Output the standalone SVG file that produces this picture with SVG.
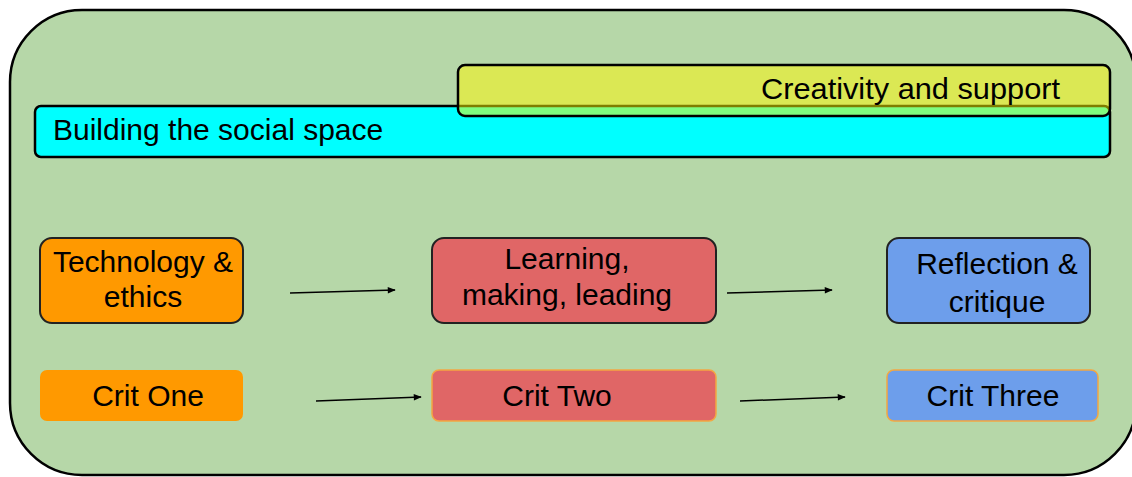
<svg xmlns="http://www.w3.org/2000/svg" width="1132" height="477" viewBox="0 0 1132 477">
<style>
text{font-family:"Liberation Sans",Arial,sans-serif;font-size:30px;fill:#000}
.node{stroke:#222;stroke-width:2}
.crit{stroke:#f4a742;stroke-width:1.5}
.conn line{stroke:#000;stroke-width:1.5;marker-end:url(#ah)}
</style>
<defs>
<marker id="ah" viewBox="0 0 10 10" refX="9" refY="5" markerWidth="11" markerHeight="8" orient="auto" markerUnits="userSpaceOnUse">
<path d="M0,1 L10,5 L0,9 z" fill="#000"/>
</marker>
</defs>
<rect width="1132" height="477" fill="#fff"/>
<g id="container">
<rect x="10" y="10" width="1126" height="465" rx="72" fill="#b6d7a8" stroke="#000" stroke-width="2.5"/>
</g>
<g id="social">
<rect x="35" y="106" width="1075" height="51" rx="6" fill="#00ffff" stroke="#000" stroke-width="2.5"/>
<text x="53" y="140">Building the social space</text>
</g>
<g id="creativity">
<rect x="458" y="65" width="652" height="51" rx="7" fill="#fffa00" fill-opacity="0.5" stroke="#000" stroke-width="2.5"/>
<text x="1060" y="99" text-anchor="end" textLength="299" lengthAdjust="spacingAndGlyphs">Creativity and support</text>
</g>
<g id="tech">
<rect class="node" x="40" y="238" width="203" height="85" rx="12" fill="#ff9900"/>
<text x="143" y="272" text-anchor="middle">Technology &amp;</text>
<text x="143" y="307" text-anchor="middle">ethics</text>
</g>
<g id="learning">
<rect class="node" x="432" y="238" width="284" height="85" rx="12" fill="#e06666"/>
<text x="567" y="269" text-anchor="middle">Learning,</text>
<text x="567" y="305" text-anchor="middle">making, leading</text>
</g>
<g id="reflection">
<rect class="node" x="887" y="238" width="203" height="85" rx="12" fill="#6d9eeb"/>
<text x="997" y="274" text-anchor="middle">Reflection &amp;</text>
<text x="997" y="312" text-anchor="middle">critique</text>
</g>
<g id="crit1">
<rect x="40" y="370" width="203" height="51" rx="7" fill="#ff9900"/>
<text x="148" y="406" text-anchor="middle">Crit One</text>
</g>
<g id="crit2">
<rect class="crit" x="432" y="370" width="284" height="51" rx="7" fill="#e06666"/>
<text x="557" y="406" text-anchor="middle">Crit Two</text>
</g>
<g id="crit3">
<rect class="crit" x="887" y="370" width="211" height="51" rx="7" fill="#6d9eeb"/>
<text x="993" y="406" text-anchor="middle">Crit Three</text>
</g>
<g id="connectors" class="conn">
<line x1="290" y1="293" x2="395" y2="290"/>
<line x1="727" y1="293" x2="832" y2="290"/>
<line x1="316" y1="401" x2="421" y2="397"/>
<line x1="740" y1="401" x2="845" y2="397"/>
</g>
</svg>
